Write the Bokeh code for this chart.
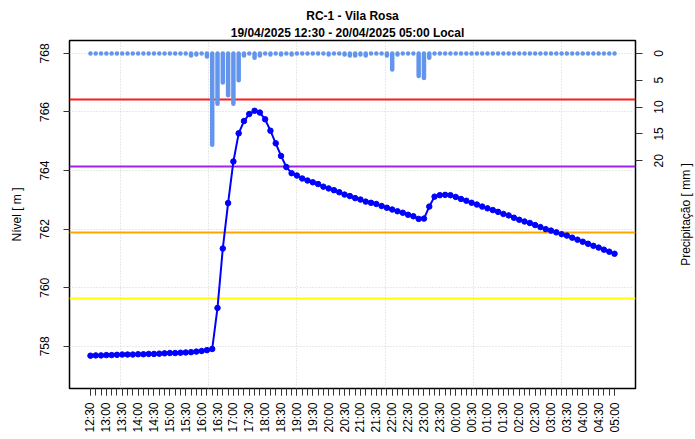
import math
import pandas as pd
from bokeh.plotting import figure
from bokeh.layouts import row
from bokeh.models import Range1d, LinearAxis, FixedTicker, Title, DatetimeTickFormatter
from bokeh.core.properties import value
from bokeh.embed import file_html
from bokeh.resources import INLINE

# ---------------- data ----------------
start_time = "2025-04-19 12:30"
n_points = 100
times = pd.date_range(start_time, periods=n_points, freq="10min")

level = [
    757.68, 757.69, 757.69, 757.70, 757.70, 757.71, 757.72, 757.72, 757.72, 757.73,
    757.73, 757.74, 757.74, 757.75, 757.76, 757.77, 757.77, 757.78, 757.79, 757.80,
    757.82, 757.84, 757.87, 757.91,
    759.31, 761.34, 762.89, 764.31, 765.27, 765.69, 765.93, 766.04, 765.98, 765.75,
    765.36, 764.93, 764.50, 764.12, 763.91, 763.83,
    763.73, 763.66, 763.60, 763.54, 763.45, 763.39, 763.33, 763.26, 763.18, 763.13,
    763.06, 763.01,
    762.94, 762.90, 762.86, 762.79, 762.73, 762.67, 762.61, 762.56, 762.49, 762.44,
    762.35, 762.36,
    762.77, 763.11, 763.16, 763.17, 763.16, 763.10, 763.03, 762.97, 762.90, 762.84,
    762.77, 762.71, 762.65, 762.59, 762.52, 762.47, 762.39, 762.32, 762.26, 762.21,
    762.14, 762.07, 762.00, 761.95, 761.89, 761.83, 761.78, 761.71, 761.64, 761.57,
    761.50, 761.43, 761.37, 761.30, 761.23, 761.16,
]

precip = [
    0, 0, 0, 0, 0, 0, 0, 0, 0, 0,
    0, 0, 0, 0, 0, 0, 0, 0, 0, 0.4,
    0.2, 0, 0.6, 17.0, 9.4, 5.4, 7.8, 9.4, 5.0, 0.4,
    0, 0.8, 0.4, 0, 0.2, 0, 0.2, 0, 0.2, 0,
    0, 0, 0, 0, 0, 0.2, 0, 0, 0.2, 0.4,
    0.4, 0.2, 0.4, 0, 0, 0, 0.4, 3.0, 0.2, 0,
    0, 0, 4.2, 4.6, 0.8, 0, 0, 0, 0, 0,
    0, 0, 0, 0, 0, 0, 0, 0, 0, 0,
    0, 0, 0, 0, 0, 0, 0, 0, 0, 0,
    0, 0, 0, 0, 0, 0, 0, 0, 0, 0,
]

thresholds = [766.41, 764.14, 761.89, 759.62]
threshold_colors = ["#ff1a1a", "#a020f0", "#ffa500", "#ffff00"]

level_ticks = [758, 760, 762, 764, 766, 768]
level_lim = (757.0, 768.0)
precip_ticks = [0, 5, 10, 15, 20]
precip_tick_labels = ["0", "5", "10", "15", "20"]
precip_lim = (60.0, 0.0)

title_line1 = "RC-1 - Vila Rosa"
title_line2 = "19/04/2025 12:30  -  20/04/2025 05:00  Local"
ylabel_left = "Nível [ m ]"
ylabel_right = "Precipitação [ mm ]"

FONT = "Liberation Sans"

# ---------------- ranges ----------------
t0, t1 = times[0], times[-1]
xpad = (t1 - t0) * 0.04
x_range = Range1d((t0 - xpad).to_pydatetime(), (t1 + xpad).to_pydatetime())
ly = level_lim[1] - level_lim[0]
y_range = Range1d(level_lim[0] - 0.04 * ly, level_lim[1] + 0.04 * ly)
py = precip_lim[0] - precip_lim[1]
prec_range = Range1d(start=precip_lim[0] + 0.04 * py, end=precip_lim[1] - 0.04 * py)

def ms(ts):
    return ts.value / 1e6

major_ticks = [ms(t) for t in pd.date_range(t0, t1, freq="30min")]
minor_ticks = [ms(t) for t in times]

# R-style pretty grid: every 10000 s in UTC (local = UTC-3)
off = 3 * 3600 * 1000
step = 10000 * 1000
gx0 = math.ceil((ms(t0 - xpad) + off) / step) * step - off
grid_ticks = []
g = gx0
while g <= ms(t1 + xpad):
    grid_ticks.append(g)
    g += step

# ---------------- layout sizes ----------------
W, H = 695, 439
BL, BT, BB = 69, 40, 51
W1 = 645                # main figure (frame right edge at 635)
BR1 = W1 - 635
W2 = W - W1             # strip holding the right-axis texts

# ---------------- main figure ----------------
p = figure(width=W1, height=H, x_axis_type="datetime",
           x_range=x_range, y_range=y_range, title=None,
           output_backend="svg", toolbar_location=None,
           min_border_left=BL, min_border_right=BR1,
           min_border_top=BT, min_border_bottom=BB)
p.background_fill_color = "white"
p.border_fill_color = "white"
p.outline_line_color = "black"
p.outline_line_width = 1.5

p.extra_y_ranges = {"prec": prec_range}

# titles
p.add_layout(Title(text=title_line2, align="center", text_font=FONT,
                   text_font_size="12px", text_font_style="bold",
                   text_color="black", standoff=1, offset=0), "above")
p.add_layout(Title(text=title_line1, align="center", text_font=FONT,
                   text_font_size="12px", text_font_style="bold",
                   text_color="black", standoff=1, offset=0), "above")

# x axis
xa = p.xaxis[0]
xa.ticker = FixedTicker(ticks=major_ticks, minor_ticks=minor_ticks)
xa.formatter = DatetimeTickFormatter(
    microseconds="%H:%M", milliseconds="%H:%M", seconds="%H:%M",
    minsec="%H:%M", minutes="%H:%M", hourmin="%H:%M", hours="%H:%M",
    days="%H:%M", months="%H:%M", years="%H:%M")
xa.major_label_orientation = math.pi / 2
xa.axis_line_color = None
xa.major_tick_out = 7
xa.major_tick_in = 0
xa.minor_tick_out = 7
xa.minor_tick_in = 0
xa.major_tick_line_color = "#333333"
xa.minor_tick_line_color = "#333333"
xa.major_label_standoff = 7
xa.major_label_text_font = FONT
xa.major_label_text_font_size = "12px"
xa.major_label_text_color = "black"

# left axis
ya = p.yaxis[0]
ya.ticker = FixedTicker(ticks=level_ticks)
ya.major_label_orientation = "parallel"
ya.axis_line_color = None
ya.major_tick_out = 6
ya.major_tick_in = 0
ya.minor_tick_out = 0
ya.minor_tick_in = 0
ya.major_tick_line_color = "#333333"
ya.major_label_standoff = 14
ya.major_label_text_font = FONT
ya.major_label_text_font_size = "12px"
ya.major_label_text_color = "black"
ya.axis_label = ylabel_left
ya.axis_label_text_font = FONT
ya.axis_label_text_font_size = "12px"
ya.axis_label_text_font_style = "normal"
ya.axis_label_text_color = "black"
ya.axis_label_standoff = 14

# right axis: tick marks on the main figure (labels are drawn in the strip)
ra = LinearAxis(y_range_name="prec", ticker=FixedTicker(ticks=precip_ticks))
ra.axis_line_color = None
ra.major_tick_out = 7
ra.major_tick_in = 0
ra.minor_tick_out = 0
ra.minor_tick_in = 0
ra.major_tick_line_color = "#333333"
ra.major_label_standoff = 0
ra.major_label_text_font_size = "1px"
ra.major_label_text_color = None
ra.major_label_text_alpha = 0
p.add_layout(ra, "right")

# grids
p.xgrid.ticker = FixedTicker(ticks=grid_ticks)
p.ygrid.ticker = FixedTicker(ticks=level_ticks)
for gr in (p.xgrid, p.ygrid):
    gr.grid_line_color = "#d3d3d3"
    gr.grid_line_dash = "1 2"
    gr.grid_line_width = 1

# thresholds
p.hspan(y=thresholds, line_color=threshold_colors, line_width=2)

# level
p.line(times, level, line_color="#0000ff", line_width=2)
p.scatter(times, level, size=5.5, fill_color="#0000ff", line_color="#0000ff")

# precipitation bars
p.segment(x0=times, y0=[0] * n_points, x1=times, y1=precip,
          line_color="#6495ed", line_width=4.5, line_cap="round",
          y_range_name="prec")

# ---------------- right strip: precipitation tick labels + axis title ----------------
p2 = figure(width=W2, height=H, x_range=Range1d(W1, W), y_range=prec_range,
            title=None, output_backend="svg", toolbar_location=None,
            x_axis_location=None, y_axis_location=None,
            min_border_left=0, min_border_right=0,
            min_border_top=BT, min_border_bottom=BB)
p2.background_fill_color = "white"
p2.border_fill_color = "white"
p2.outline_line_color = None
p2.grid.visible = False

p2.text(x=[658] * len(precip_ticks), y=precip_ticks, text=precip_tick_labels,
        angle=math.pi / 2, text_align="center", text_baseline="middle",
        text_font=value(FONT), text_font_size="12px", text_color="black")
p2.text(x=[685], y=[(prec_range.start + prec_range.end) / 2], text=[ylabel_right],
        angle=math.pi / 2, text_align="center", text_baseline="middle",
        text_font=value(FONT), text_font_size="12px", text_color="black")

layout = row(p, p2, spacing=0)
open("out.html", "w").write(file_html(layout, INLINE))
